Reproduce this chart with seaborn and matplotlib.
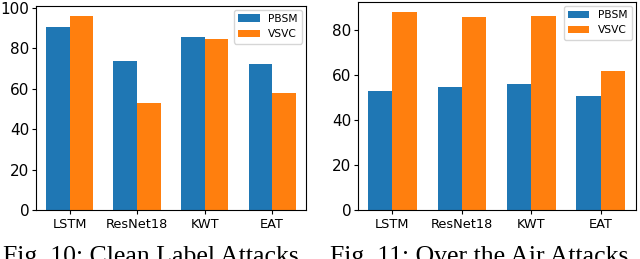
import pandas as pd
import matplotlib
matplotlib.use("Agg")
import matplotlib.pyplot as plt
import seaborn as sns

models = ["LSTM", "ResNet18", "KWT", "EAT"]
methods = ["PBSM", "VSVC"]

# Fig. 10: clean label attacks
clean_pbsm = [90.4, 73.4, 85.5, 72.3]
clean_vsvc = [96.0, 53.1, 84.3, 57.8]

# Fig. 11: over the air attacks
air_pbsm = [53.0, 54.8, 56.0, 50.4]
air_vsvc = [87.9, 85.6, 86.2, 61.6]

colors = ["#1f77b4", "#ff7f0e"]


def make_df(pbsm, vsvc):
    return pd.DataFrame({
        "model": models * 2,
        "method": ["PBSM"] * 4 + ["VSVC"] * 4,
        "value": pbsm + vsvc,
    })


fig = plt.figure(figsize=(6.4, 2.59), dpi=100)
ax1 = fig.add_axes([0.056, 0.189, 0.422, 0.788])
ax2 = fig.add_axes([0.559, 0.189, 0.434, 0.803])

for ax, (p, v) in zip([ax1, ax2], [(clean_pbsm, clean_vsvc), (air_pbsm, air_vsvc)]):
    sns.barplot(data=make_df(p, v), x="model", y="value", hue="method",
                hue_order=methods, palette=colors, saturation=1, width=0.7,
                ax=ax)
    ax.set_xlabel("")
    ax.set_ylabel("")
    ax.tick_params(axis="y", labelsize=11, length=3, pad=1.5)
    ax.tick_params(axis="x", labelsize=9.3, length=3, pad=2.5)
    ax.legend(loc="upper right", fontsize=7.7, borderaxespad=0.35)

ax1.set_yticks([0, 20, 40, 60, 80, 100])
ax2.set_yticks([0, 20, 40, 60, 80])

fig.text(0.004, 0.05, "Fig. 10: Clean Label Attacks", family="Liberation Serif",
         fontsize=18.5, va="top", ha="left")
fig.text(0.515, 0.05, "Fig. 11: Over the Air Attacks", family="Liberation Serif",
         fontsize=18.5, va="top", ha="left")

fig.savefig("out.png", dpi=100)
